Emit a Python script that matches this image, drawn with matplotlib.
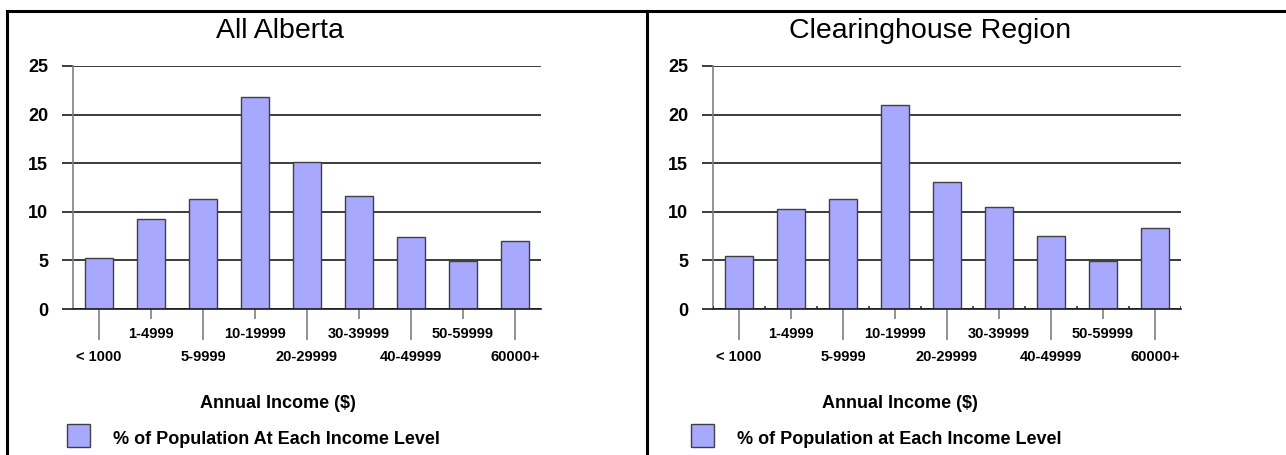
import numpy as np
import matplotlib
matplotlib.use("Agg")
from matplotlib import pyplot as plt
from matplotlib.lines import Line2D
from matplotlib.patches import Rectangle

plt.rcParams["font.family"] = ["Liberation Sans", "DejaVu Sans"]

income_levels = ["< 1000", "1-4999", "5-9999", "10-19999", "20-29999",
                 "30-39999", "40-49999", "50-59999", "60000+"]
alberta_pct = [5.2, 9.3, 11.3, 21.8, 15.1, 11.6, 7.4, 4.9, 7.0]
region_pct = [5.5, 10.3, 11.3, 21.0, 13.1, 10.5, 7.5, 4.9, 8.3]
y_ticks = [0, 5, 10, 15, 20, 25]

panels = [
    ("All Alberta", alberta_pct, "% of Population At Each Income Level"),
    ("Clearinghouse Region", region_pct, "% of Population at Each Income Level"),
]

W, H = 1286, 455
fig = plt.figure(figsize=(W / 100, H / 100), dpi=100)

bar_color = "#a8a8ff"
edge_color = "#404040"
px = 0.72  # points per pixel at 100 dpi

ax_lefts = [73, 713]
title_x = [280, 930]
xlabel_x = [278, 900]
legend_x = [67, 691]

for i, (title, values, legend_text) in enumerate(panels):
    left = ax_lefts[i]
    ax = fig.add_axes([left / W, 1 - 309 / H, 468 / W, 243 / H])
    x = np.arange(len(income_levels))
    ax.bar(x, values, width=0.52, color=bar_color, edgecolor=edge_color,
           linewidth=1.0, zorder=3)
    ax.set_xlim(-0.5, len(income_levels) - 0.5)
    ax.set_ylim(0, 25)

    # horizontal grid with ticks poking out to the left
    ax.set_yticks(y_ticks)
    ax.yaxis.grid(True, color="#1a1a1a", linewidth=1.2, zorder=1)
    ax.tick_params(axis="y", direction="out", length=11 * px, width=1.2,
                   color="#1a1a1a", pad=10, labelsize=13)
    for lbl in ax.get_yticklabels():
        lbl.set_fontweight("bold")

    for s in ["top", "right"]:
        ax.spines[s].set_visible(False)
    ax.spines["left"].set_color("#808080")
    ax.spines["left"].set_linewidth(1.2)
    ax.spines["bottom"].set_color("#1a1a1a")
    ax.spines["bottom"].set_linewidth(1.2)
    ax.spines["bottom"].set_zorder(4)

    # staggered category labels: long ticks for even, short ticks for odd
    even = x[::2]
    odd = x[1::2]
    ax.set_xticks(even)
    ax.set_xticklabels(income_levels[::2], fontsize=10.5, fontweight="bold")
    ax.set_xticks(odd, minor=True)
    ax.set_xticklabels(income_levels[1::2], minor=True, fontsize=10.5,
                       fontweight="bold")
    ax.tick_params(axis="x", which="major", length=31 * px, width=1.2,
                   color="#808080", pad=7)
    ax.tick_params(axis="x", which="minor", length=10 * px, width=1.2,
                   color="#808080", pad=6)

    if i == 1:
        # small divider marks between bars on the baseline
        ax.vlines(np.arange(-0.5, len(income_levels)), 0, 0.3,
                  color="#333333", linewidth=1.2, zorder=4)

    fig.text(title_x[i] / W, 1 - 31 / H, title, fontsize=20.5,
             ha="center", va="center")
    fig.text(xlabel_x[i] / W, 1 - 403 / H, "Annual Income ($)", fontsize=13,
             fontweight="bold", ha="center", va="center")

    # legend key
    fig.add_artist(Rectangle((legend_x[i] / W, 1 - 447 / H), 23 / W, 23 / H,
                             transform=fig.transFigure, facecolor=bar_color,
                             edgecolor=edge_color, linewidth=1.0))
    fig.text((legend_x[i] + 46) / W, 1 - 439 / H, legend_text, fontsize=13,
             fontweight="bold", ha="left", va="center")

# panel frame
frame = dict(color="black", linewidth=2.2, transform=fig.transFigure)
fig.add_artist(Line2D([7 / W, 1], [1 - 11 / H, 1 - 11 / H], **frame))
fig.add_artist(Line2D([7 / W, 7 / W], [0, 1 - 11 / H], **frame))
fig.add_artist(Line2D([646.5 / W, 646.5 / W], [0, 1 - 11 / H], **frame))

fig.savefig("out.png", dpi=100)
